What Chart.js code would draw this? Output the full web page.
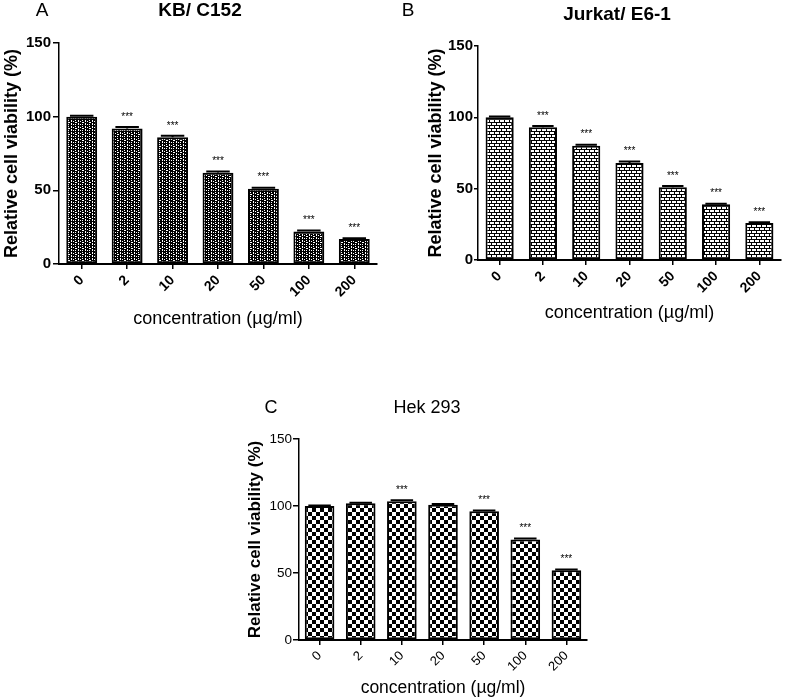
<!DOCTYPE html>
<html><head><meta charset="utf-8">
<script src="https://cdn.jsdelivr.net/npm/chart.js@4.4.0/dist/chart.umd.min.js"></script>
<style>
html,body{margin:0;padding:0;background:#fff;}
body{width:790px;height:699px;position:relative;overflow:hidden;}
.p{position:absolute;}
canvas{display:block;}
</style></head><body>
<div class="p" style="left:0;top:0;"><canvas id="cA" width="395" height="330"></canvas></div>
<div class="p" style="left:400px;top:0;"><canvas id="cB" width="390" height="330"></canvas></div>
<div class="p" style="left:200px;top:340px;"><canvas id="cC" width="400" height="359"></canvas></div>
<script>
// ---- data ----
const concentrations = ['0', '2', '10', '20', '50', '100', '200'];
const yTicks = [0, 50, 100, 150];

const kbViability = [100, 92, 86, 62, 51, 22, 17];
const kbError = [0.6, 1, 1, 0.8, 0.8, 0.8, 0.5];
const kbSignificance = ['', '***', '***', '***', '***', '***', '***'];

const jurkatViability = [100, 93, 80, 68, 51, 39, 26];
const jurkatError = [0.5, 1, 0.8, 1, 0.8, 0.5, 0.5];
const jurkatSignificance = ['', '***', '***', '***', '***', '***', '***'];

const hekViability = [100, 102, 103.5, 101, 96, 75, 52];
const hekError = [0.4, 0.5, 0.8, 0.5, 0.6, 0.8, 0.6];
const hekSignificance = ['', '', '***', '', '***', '***', '***'];

const FF = '"Liberation Sans", Arial, sans-serif';

function makePattern(type) {
  const c = document.createElement('canvas');
  const g = c.getContext('2d');
  if (type === 'dash') {
    c.width = 7; c.height = 6;
    g.fillStyle = '#000'; g.fillRect(0, 0, 7, 6);
    g.fillStyle = '#fff';
    [[1,0,1,2],[1,3,1,2],[3,1,1,1],[3,4,1,1],[5,0,1,1],[5,2,2,1],[5,4,1,1]].forEach(r => g.fillRect(...r));
  } else if (type === 'brick') {
    c.width = 10; c.height = 6;
    g.fillStyle = '#000'; g.fillRect(0, 0, 10, 6);
    g.fillStyle = '#fff';
    [[0,0,4,2],[5,0,4,2],[2,3,4,2],[7,3,3,2],[0,3,1,2]].forEach(r => g.fillRect(...r));
  } else {
    c.width = 8; c.height = 8;
    g.fillStyle = '#fff'; g.fillRect(0, 0, 8, 8);
    g.fillStyle = '#000';
    g.fillRect(0, 0, 4, 4); g.fillRect(4, 4, 4, 4);
  }
  return g.createPattern(c, 'repeat');
}

const annotPlugin = {
  id: 'annot',
  afterDatasetsDraw(chart, args, o) {
    const ctx = chart.ctx;
    const meta = chart.getDatasetMeta(0);
    const y = chart.scales.y;
    ctx.save();
    meta.data.forEach((bar, i) => {
      const v = o.values[i], e = o.errors[i];
      const yv = y.getPixelForValue(v);
      const yt = y.getPixelForValue(v + e);
      const hw = bar.width * 0.38;
      ctx.strokeStyle = '#000';
      ctx.lineWidth = 2;
      ctx.beginPath();
      ctx.moveTo(bar.x, yv); ctx.lineTo(bar.x, yt);
      ctx.moveTo(bar.x - hw, yt); ctx.lineTo(bar.x + hw, yt);
      ctx.stroke();
      if (o.sig[i]) {
        ctx.fillStyle = '#000';
        ctx.font = '10px ' + FF;
        ctx.textAlign = 'center';
        ctx.textBaseline = 'middle';
        ctx.fillText(o.sig[i], bar.x, yt - 10);
      }
    });
    ctx.fillStyle = '#000';
    ctx.textBaseline = 'middle';
    ctx.textAlign = 'center';
    ctx.font = o.letterFont;
    ctx.fillText(o.letter, o.letterX, o.letterY);
    ctx.font = o.titleFont;
    ctx.fillText(o.title, o.titleX, o.titleY);
    ctx.restore();
  }
};

function makeChart(id, c) {
  const ctx = document.getElementById(id).getContext('2d');
  return new Chart(ctx, {
    type: 'bar',
    data: {
      labels: concentrations,
      datasets: [{
        data: c.values,
        backgroundColor: makePattern(c.pattern),
        borderColor: '#000',
        borderWidth: 2,
        borderSkipped: false,
        categoryPercentage: 1,
        barPercentage: c.barPct
      }]
    },
    options: {
      responsive: false,
      animation: false,
      devicePixelRatio: 1,
      layout: { padding: { left: c.padL, top: c.padT, right: c.padR, bottom: 0 } },
      plugins: {
        legend: { display: false },
        tooltip: { enabled: false },
        title: { display: false },
        annot: {
          values: c.values, errors: c.errors, sig: c.sig,
          letter: c.letter, letterX: c.letterX, letterY: c.letterY, letterFont: c.letterFont,
          title: c.title, titleX: c.titleX, titleY: c.titleY, titleFont: c.titleFont
        }
      },
      scales: {
        x: {
          type: 'category',
          offset: true,
          grid: { display: true, offset: false, drawOnChartArea: false, drawTicks: true, tickLength: 5, color: '#000', lineWidth: 1.5 },
          border: { display: true, color: '#000', width: 2 },
          ticks: { color: '#000', minRotation: 45, maxRotation: 45, padding: 3, font: c.xTickFont },
          title: { display: true, text: 'concentration (µg/ml)', color: '#000', font: c.xTitleFont, padding: { top: 0, bottom: c.xTitlePad } },
          afterFit: s => { s.height = c.xHeight; }
        },
        y: {
          min: 0, max: 150,
          afterBuildTicks: s => { s.ticks = yTicks.map(v => ({ value: v })); },
          grid: { display: true, drawOnChartArea: false, drawTicks: true, tickLength: c.yTickLen, color: '#000', lineWidth: 1.5 },
          border: { display: true, color: '#000', width: 1.5 },
          ticks: { color: '#000', padding: c.yTickPad, font: c.yTickFont },
          title: { display: true, text: 'Relative cell viability (%)', color: '#000', font: c.yTitleFont, padding: { top: c.yTitlePad, bottom: 0 } },
          afterFit: s => { s.width = c.yWidth; }
        }
      }
    },
    plugins: [annotPlugin]
  });
}

makeChart('cA', {
  values: kbViability, errors: kbError, sig: kbSignificance, pattern: 'dash', barPct: 0.68,
  padL: 0, padT: 43, padR: 18, yWidth: 59, xHeight: 66,
  yTickLen: 6, yTickPad: 2, xTitlePad: 0, yTitlePad: 1,
  xTickFont: { family: FF, size: 14, weight: 'bold' },
  yTickFont: { family: FF, size: 15, weight: 'bold' },
  xTitleFont: { family: FF, size: 18 },
  yTitleFont: { family: FF, size: 18, weight: 'bold' },
  letter: 'A', letterX: 42, letterY: 11, letterFont: '19px ' + FF,
  title: 'KB/ C152', titleX: 200, titleY: 11, titleFont: 'bold 19px ' + FF
});

makeChart('cB', {
  values: jurkatViability, errors: jurkatError, sig: jurkatSignificance, pattern: 'brick', barPct: 0.65,
  padL: 24, padT: 46, padR: 9, yWidth: 54, xHeight: 70,
  yTickLen: 4, yTickPad: 1, xTitlePad: 6, yTitlePad: 1,
  xTickFont: { family: FF, size: 14, weight: 'bold' },
  yTickFont: { family: FF, size: 15, weight: 'bold' },
  xTitleFont: { family: FF, size: 18 },
  yTitleFont: { family: FF, size: 18, weight: 'bold' },
  letter: 'B', letterX: 8, letterY: 11, letterFont: '19px ' + FF,
  title: 'Jurkat/ E6-1', titleX: 217, titleY: 15, titleFont: 'bold 19px ' + FF
});

makeChart('cC', {
  values: hekViability, errors: hekError, sig: hekSignificance, pattern: 'checker', barPct: 0.72,
  padL: 44, padT: 99, padR: 13, yWidth: 55, xHeight: 59,
  yTickLen: 6, yTickPad: 1, xTitlePad: 0, yTitlePad: 1,
  xTickFont: { family: FF, size: 13 },
  yTickFont: { family: FF, size: 13.5 },
  xTitleFont: { family: FF, size: 17.5 },
  yTitleFont: { family: FF, size: 17, weight: 'bold' },
  letter: 'C', letterX: 71, letterY: 68, letterFont: '18px ' + FF,
  title: 'Hek 293', titleX: 227, titleY: 68, titleFont: '18px ' + FF
});
</script>
</body></html>
